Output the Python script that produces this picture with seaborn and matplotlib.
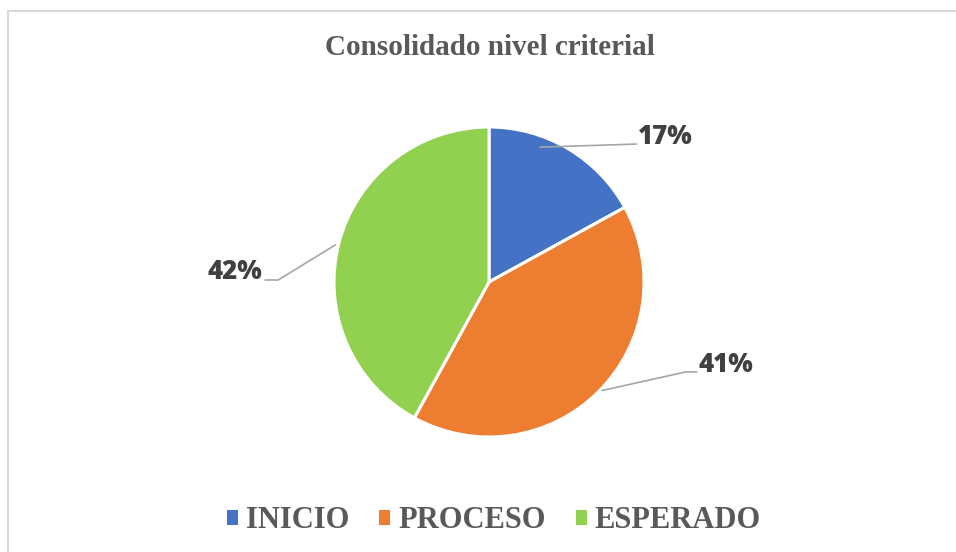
import matplotlib
matplotlib.use('Agg')
import matplotlib.pyplot as plt
import seaborn as sns
from matplotlib.lines import Line2D
from matplotlib.patches import Patch

sns.set_theme(style='white')

# data
categories = ['INICIO', 'PROCESO', 'ESPERADO']
values = [17, 41, 42]
colors = ['#4472C4', '#ED7D31', '#92D050']

# label layout (data units, pie radius = 1): text position and leader path
label_pos = [(1.14, 0.935), (1.53, -0.535), (-1.64, 0.065)]
leaders = [
    [(0.33, 0.87), (0.95, 0.89)],
    [(0.73, -0.70), (1.27, -0.58), (1.34, -0.58)],
    [(-0.99, 0.24), (-1.36, 0.013), (-1.445, 0.013)],
]

W, H = 956, 552
cx, cy, r = 489, 282, 155

fig = plt.figure(figsize=(W / 100, H / 100), dpi=100)
ax = fig.add_axes([0, 0, 1, 1])
ax.pie(values, colors=colors, startangle=90, counterclock=False, radius=1,
       wedgeprops=dict(edgecolor='white', linewidth=2.2))
ax.set_xlim(-cx / r, (W - cx) / r)
ax.set_ylim(-(H - cy) / r, cy / r)
ax.set_aspect('auto')
ax.axis('off')

for v, (tx, ty), path in zip(values, label_pos, leaders):
    xs, ys = zip(*path)
    ax.plot(xs, ys, color='#A6A6A6', lw=1.2)
    ax.text(tx, ty, f'{v}%', ha='center', va='center', fontsize=18.5,
            fontweight='heavy', color='#404040', family='Open Sans')

fig.text(490 / W, 1 - 48 / H, 'Consolidado nivel criterial', ha='center', va='center',
         fontsize=21, fontweight='bold', color='#595959', family='Liberation Serif')

handles = [Patch(facecolor=c, edgecolor='none') for c in colors]
fig.legend(handles, categories, loc='center', bbox_to_anchor=(494 / W, 1 - 521 / H),
           ncol=3, frameon=False, handlelength=0.36, handleheight=0.36,
           handletextpad=0.25, columnspacing=1.0,
           prop=dict(family='Liberation Serif', weight='bold', size=22),
           labelcolor='#595959')

# chart border
fig.add_artist(Line2D([8 / W, 1], [1 - 11 / H, 1 - 11 / H], color='#D9D9D9', lw=1.5))
fig.add_artist(Line2D([8 / W, 8 / W], [0, 1 - 11 / H], color='#D9D9D9', lw=1.5))

fig.savefig('out.png', dpi=100, facecolor='white')
